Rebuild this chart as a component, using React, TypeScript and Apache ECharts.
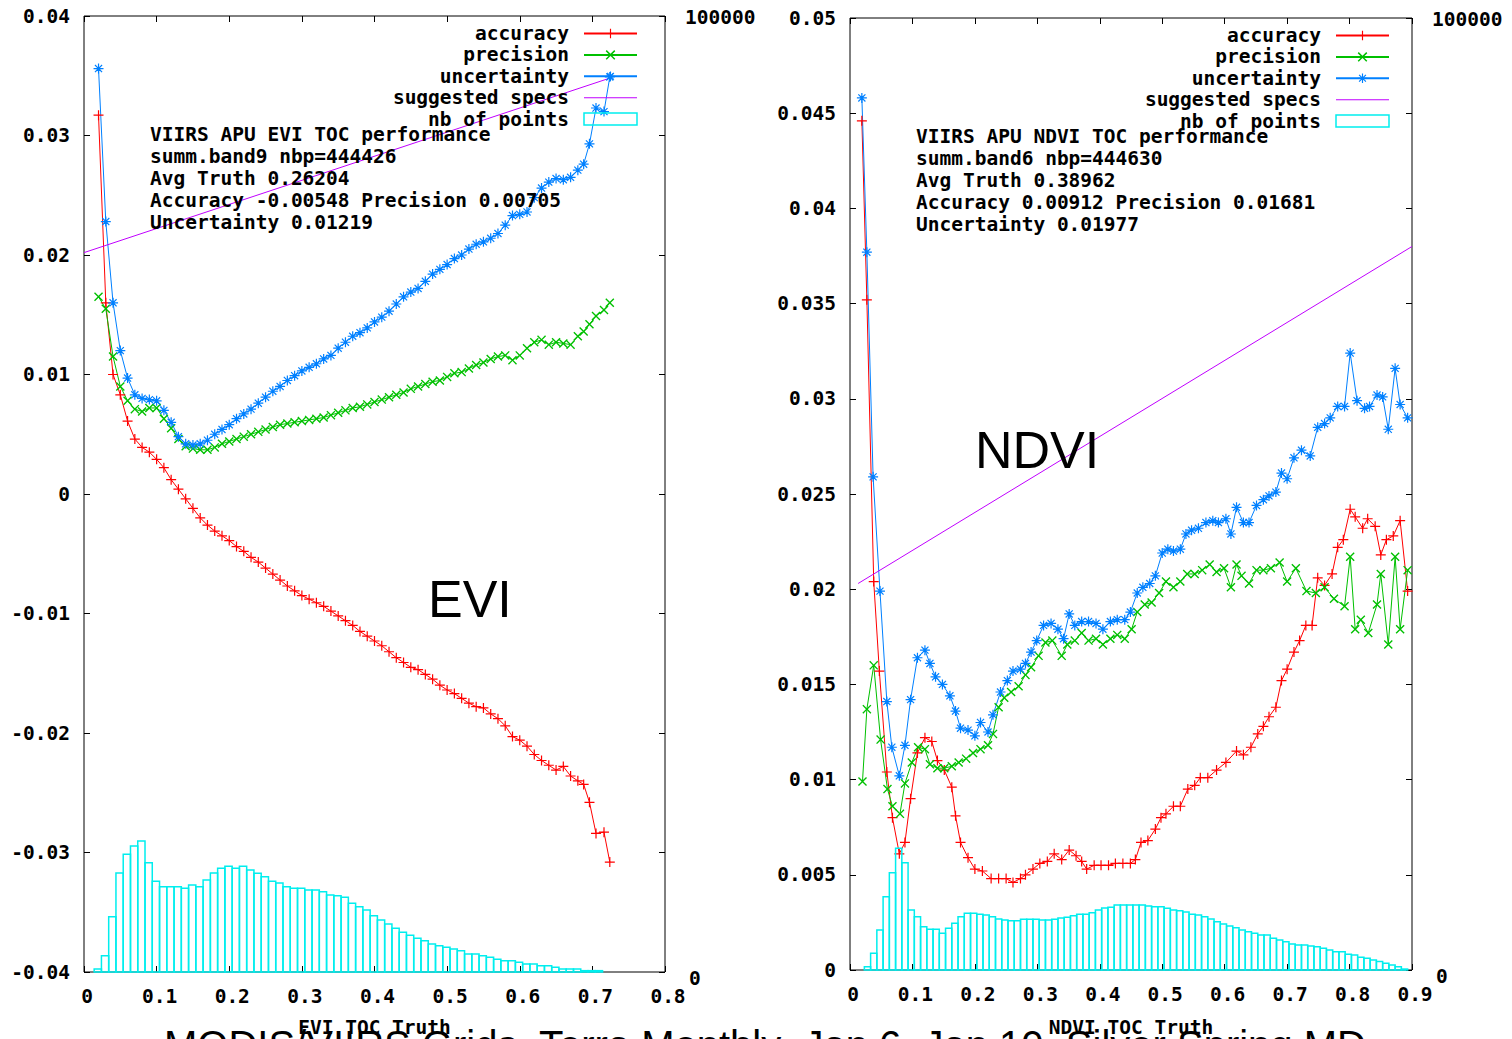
import React, { useEffect, useRef } from "react";
import * as echarts from "echarts";

// ---------------- EVI panel data ----------------
const EVI_X = [
  0.02, 0.03, 0.04, 0.05, 0.06, 0.07, 0.08, 0.09, 0.10, 0.11,
  0.12, 0.13, 0.14, 0.15, 0.16, 0.17, 0.18, 0.19, 0.20, 0.21,
  0.22, 0.23, 0.24, 0.25, 0.26, 0.27, 0.28, 0.29, 0.30, 0.31,
  0.32, 0.33, 0.34, 0.35, 0.36, 0.37, 0.38, 0.39, 0.40, 0.41,
  0.42, 0.43, 0.44, 0.45, 0.46, 0.47, 0.48, 0.49, 0.50, 0.51,
  0.52, 0.53, 0.54, 0.55, 0.56, 0.57, 0.58, 0.59, 0.60, 0.61,
  0.62, 0.63, 0.64, 0.65, 0.66, 0.67, 0.68, 0.688, 0.696, 0.705, 0.716, 0.724,
];
const EVI_ACCURACY = [
  0.0317, 0.0160, 0.0100, 0.0083, 0.0061, 0.0046, 0.0039, 0.0035, 0.0029, 0.0022,
  0.0012, 0.0004, -0.0004, -0.0012, -0.0020, -0.0026, -0.0031, -0.0035, -0.0039, -0.0044,
  -0.0048, -0.0053, -0.0057, -0.0062, -0.0067, -0.0072, -0.0077, -0.0081, -0.0085, -0.0088,
  -0.0091, -0.0094, -0.0098, -0.0102, -0.0106, -0.0110, -0.0115, -0.0119, -0.0123, -0.0127,
  -0.0132, -0.0137, -0.0141, -0.0145, -0.0147, -0.0151, -0.0155, -0.0160, -0.0164, -0.0167,
  -0.0171, -0.0175, -0.0178, -0.0179, -0.0184, -0.0188, -0.0194, -0.0203, -0.0206, -0.0211,
  -0.0218, -0.0223, -0.0227, -0.0231, -0.0228, -0.0236, -0.0240, -0.0243, -0.0258, -0.0284, -0.0283, -0.0308,
];
const EVI_PRECISION = [
  0.0165, 0.0155, 0.0115, 0.0090, 0.0078, 0.0071, 0.0069, 0.0072, 0.0072, 0.0063,
  0.0055, 0.0046, 0.0040, 0.0038, 0.0037, 0.0037, 0.0039, 0.0042, 0.0044, 0.0046,
  0.0048, 0.0050, 0.0052, 0.0054, 0.0056, 0.0058, 0.0059, 0.0060, 0.0061, 0.0062,
  0.0063, 0.0064, 0.0066, 0.0068, 0.0070, 0.0072, 0.0073, 0.0075, 0.0077, 0.0079,
  0.0081, 0.0083, 0.0085, 0.0088, 0.0090, 0.0092, 0.0094, 0.0095, 0.0098, 0.0101,
  0.0102, 0.0105, 0.0108, 0.0110, 0.0113, 0.0115, 0.0116, 0.0112, 0.0116, 0.0122,
  0.0127, 0.0129, 0.0125, 0.0127, 0.0126, 0.0125, 0.0132, 0.0136, 0.0142, 0.0149, 0.0154, 0.0160,
];
const EVI_UNCERTAINTY = [
  0.0356, 0.0228, 0.0160, 0.0120, 0.0097, 0.0083, 0.0080, 0.0079, 0.0078, 0.0070,
  0.0060, 0.0048, 0.0042, 0.0041, 0.0042, 0.0045, 0.0050, 0.0054, 0.0058, 0.0063,
  0.0067, 0.0071, 0.0076, 0.0081, 0.0086, 0.0090, 0.0095, 0.0099, 0.0103, 0.0106,
  0.0109, 0.0113, 0.0116, 0.0122, 0.0127, 0.0132, 0.0135, 0.0139, 0.0144, 0.0148,
  0.0153, 0.0159, 0.0165, 0.0169, 0.0172, 0.0178, 0.0184, 0.0188, 0.0192, 0.0197,
  0.0200, 0.0205, 0.0209, 0.0211, 0.0214, 0.0218, 0.0225, 0.0233, 0.0234, 0.0236,
  0.0248, 0.0256, 0.0261, 0.0264, 0.0263, 0.0265, 0.0271, 0.0276, 0.0293, 0.0323, 0.0320, 0.0349,
];
const EVI_SPECS = [[0, 0.0202], [0.724, 0.0348]];
const EVI_BINS = [
  0.019, 0.029, 0.039, 0.049, 0.059, 0.069, 0.079, 0.089, 0.099, 0.109,
  0.119, 0.129, 0.139, 0.149, 0.159, 0.169, 0.179, 0.189, 0.199, 0.209,
  0.219, 0.229, 0.239, 0.249, 0.259, 0.269, 0.279, 0.289, 0.299, 0.309,
  0.319, 0.329, 0.339, 0.349, 0.359, 0.369, 0.379, 0.389, 0.399, 0.409,
  0.419, 0.429, 0.439, 0.449, 0.459, 0.469, 0.479, 0.489, 0.499, 0.509,
  0.519, 0.529, 0.539, 0.549, 0.559, 0.569, 0.579, 0.589, 0.599, 0.609,
  0.619, 0.629, 0.639, 0.649, 0.659, 0.669, 0.679, 0.689, 0.699, 0.709,
];
const EVI_COUNTS = [
  314, 1700, 5790, 10350, 12310, 13180, 13700, 11440, 9480, 8930,
  8930, 8930, 8750, 9100, 8930, 9620, 10350, 10840, 11050, 10840,
  11050, 10670, 10320, 9970, 9480, 9310, 8930, 8750, 8750, 8580,
  8580, 8400, 8050, 7980, 7810, 7180, 6830, 6490, 5890, 5440,
  5020, 4570, 4150, 3840, 3520, 3280, 2930, 2750, 2580, 2410,
  2230, 1880, 1880, 1710, 1540, 1330, 1180, 1180, 1010, 840,
  840, 660, 660, 490, 310, 310, 310, 140, 140, 140,
];

// ---------------- NDVI panel data ----------------
const NDVI_ACCURACY = [
  [0.019, 0.0446], [0.027, 0.0352], [0.038, 0.0204], [0.047, 0.0157], [0.059, 0.0104],
  [0.068, 0.0080], [0.079, 0.0061], [0.088, 0.0067], [0.097, 0.0090], [0.108, 0.0114],
  [0.12, 0.0122], [0.131, 0.0120], [0.14, 0.0110], [0.151, 0.0105], [0.163, 0.0096],
  [0.169, 0.0081], [0.177, 0.0067], [0.189, 0.0059], [0.2, 0.0053], [0.212, 0.0052],
  [0.226, 0.0048], [0.238, 0.0048], [0.25, 0.0048], [0.261, 0.0046], [0.273, 0.0048],
  [0.281, 0.0050], [0.293, 0.0053], [0.304, 0.0056], [0.316, 0.0057], [0.327, 0.0061],
  [0.339, 0.0058], [0.351, 0.0063], [0.362, 0.0060], [0.371, 0.0057], [0.379, 0.0053],
  [0.391, 0.0055], [0.402, 0.0055], [0.414, 0.0055], [0.425, 0.0056], [0.437, 0.0056],
  [0.449, 0.0056], [0.457, 0.0058], [0.466, 0.0067], [0.477, 0.0068], [0.489, 0.0074],
  [0.498, 0.0080], [0.506, 0.0082], [0.518, 0.0086], [0.529, 0.0086], [0.541, 0.0095],
  [0.552, 0.0097], [0.561, 0.0101], [0.573, 0.0101], [0.587, 0.0105], [0.602, 0.0109],
  [0.619, 0.0115], [0.63, 0.0113], [0.642, 0.0117], [0.653, 0.0124], [0.662, 0.0128],
  [0.671, 0.0133], [0.682, 0.0138], [0.691, 0.0152], [0.7, 0.0158], [0.711, 0.0167],
  [0.72, 0.0173], [0.73, 0.0181], [0.74, 0.0181], [0.749, 0.0206], [0.76, 0.0202],
  [0.772, 0.0208], [0.781, 0.0222], [0.79, 0.0226], [0.801, 0.0242], [0.809, 0.0238],
  [0.821, 0.0232], [0.829, 0.0237], [0.841, 0.0233], [0.85, 0.0218], [0.859, 0.0226],
  [0.87, 0.0228], [0.881, 0.0236], [0.893, 0.0199],
];
const NDVI_PRECISION = [
  [0.02, 0.0099], [0.027, 0.0137], [0.038, 0.0160], [0.049, 0.0121], [0.06, 0.0095],
  [0.068, 0.0086], [0.08, 0.0082], [0.088, 0.0098], [0.099, 0.0109], [0.109, 0.0117],
  [0.12, 0.0116], [0.128, 0.0108], [0.14, 0.0106], [0.151, 0.0106], [0.163, 0.0107],
  [0.174, 0.0109], [0.186, 0.0111], [0.197, 0.0114], [0.209, 0.0116], [0.221, 0.0118],
  [0.229, 0.0124], [0.238, 0.0138], [0.247, 0.0143], [0.258, 0.0146], [0.27, 0.0149],
  [0.281, 0.0155], [0.29, 0.0159], [0.302, 0.0165], [0.313, 0.0172], [0.324, 0.0173],
  [0.339, 0.0165], [0.348, 0.0171], [0.36, 0.0173], [0.371, 0.0177], [0.382, 0.0173],
  [0.394, 0.0174], [0.405, 0.0171], [0.417, 0.0174], [0.428, 0.0176], [0.44, 0.0174],
  [0.451, 0.0179], [0.46, 0.0188], [0.472, 0.0192], [0.483, 0.0193], [0.495, 0.0198],
  [0.506, 0.0204], [0.518, 0.0201], [0.529, 0.0204], [0.54, 0.0208], [0.552, 0.0208],
  [0.564, 0.0210], [0.576, 0.0213], [0.587, 0.0209], [0.599, 0.0211], [0.61, 0.0201],
  [0.619, 0.0213], [0.627, 0.0207], [0.639, 0.0203], [0.651, 0.0210], [0.662, 0.0210],
  [0.674, 0.0211], [0.688, 0.0214], [0.7, 0.0204], [0.714, 0.0211], [0.731, 0.0199],
  [0.746, 0.0198], [0.76, 0.0201], [0.775, 0.0195], [0.792, 0.0191], [0.801, 0.0217],
  [0.809, 0.0179], [0.818, 0.0184], [0.83, 0.0177], [0.844, 0.0192], [0.85, 0.0208],
  [0.862, 0.0171], [0.873, 0.0217], [0.881, 0.0179], [0.893, 0.0210],
];
const NDVI_UNCERTAINTY = [
  [0.019, 0.0458], [0.027, 0.0377], [0.037, 0.0259], [0.048, 0.0199], [0.059, 0.0141],
  [0.067, 0.0117], [0.079, 0.0102], [0.088, 0.0118], [0.097, 0.0142], [0.108, 0.0164],
  [0.12, 0.0168], [0.128, 0.0161], [0.137, 0.0154], [0.148, 0.0150], [0.16, 0.0144],
  [0.169, 0.0136], [0.177, 0.0127], [0.189, 0.0126], [0.2, 0.0123], [0.209, 0.0130],
  [0.221, 0.0125], [0.229, 0.0134], [0.241, 0.0146], [0.252, 0.0152], [0.261, 0.0157],
  [0.273, 0.0158], [0.281, 0.0161], [0.29, 0.0167], [0.299, 0.0173], [0.31, 0.0181],
  [0.322, 0.0182], [0.333, 0.0179], [0.342, 0.0174], [0.351, 0.0187], [0.36, 0.0181],
  [0.371, 0.0183], [0.382, 0.0183], [0.394, 0.0182], [0.405, 0.0179], [0.417, 0.0183],
  [0.428, 0.0184], [0.44, 0.0184], [0.449, 0.0188], [0.46, 0.0198], [0.469, 0.0201],
  [0.48, 0.0203], [0.489, 0.0207], [0.5, 0.0219], [0.509, 0.0221], [0.518, 0.0220],
  [0.529, 0.0221], [0.538, 0.0229], [0.547, 0.0231], [0.558, 0.0232], [0.57, 0.0235],
  [0.581, 0.0236], [0.59, 0.0235], [0.602, 0.0237], [0.61, 0.0229], [0.619, 0.0243],
  [0.63, 0.0235], [0.639, 0.0235], [0.651, 0.0244], [0.662, 0.0247], [0.671, 0.0249],
  [0.682, 0.0251], [0.691, 0.0261], [0.7, 0.0258], [0.711, 0.0269], [0.723, 0.0273],
  [0.737, 0.0270], [0.749, 0.0285], [0.76, 0.0287], [0.769, 0.0290], [0.781, 0.0296],
  [0.792, 0.0296], [0.801, 0.0324], [0.812, 0.0299], [0.824, 0.0295], [0.832, 0.0296],
  [0.844, 0.0302], [0.853, 0.0301], [0.862, 0.0284], [0.873, 0.0316], [0.881, 0.0297],
  [0.893, 0.0290],
];
const NDVI_SPECS = [[0.013, 0.0203], [0.9, 0.0380]];
const NDVI_BINS = [
  0.028, 0.038, 0.048, 0.058, 0.068, 0.078, 0.088, 0.098, 0.108, 0.118,
  0.128, 0.138, 0.148, 0.158, 0.168, 0.178, 0.188, 0.198, 0.208, 0.218,
  0.228, 0.238, 0.248, 0.258, 0.268, 0.278, 0.288, 0.298, 0.308, 0.318,
  0.328, 0.338, 0.348, 0.358, 0.368, 0.378, 0.388, 0.398, 0.408, 0.418,
  0.428, 0.438, 0.448, 0.458, 0.468, 0.478, 0.488, 0.498, 0.508, 0.518,
  0.528, 0.538, 0.548, 0.558, 0.568, 0.578, 0.588, 0.598, 0.608, 0.618,
  0.628, 0.638, 0.648, 0.658, 0.668, 0.678, 0.688, 0.698, 0.708, 0.718,
  0.728, 0.738, 0.748, 0.758, 0.768, 0.778, 0.788, 0.798, 0.808, 0.818,
  0.828, 0.838, 0.848, 0.858, 0.868, 0.878, 0.888,
];
const NDVI_COUNTS = [
  350, 1750, 4200, 7700, 10220, 12780, 11270, 6300, 5600, 4550,
  4270, 4270, 3850, 4380, 4900, 5600, 5950, 5950, 5850, 5780,
  5600, 5360, 5250, 5180, 5180, 5320, 5320, 5320, 5250, 5250,
  5320, 5460, 5530, 5710, 5850, 5850, 6020, 6300, 6510, 6580,
  6830, 6830, 6830, 6830, 6830, 6720, 6650, 6650, 6480, 6300,
  6230, 6090, 5850, 5780, 5600, 5360, 5080, 4830, 4620, 4450,
  4200, 4030, 3850, 3680, 3680, 3330, 3150, 2980, 2730, 2630,
  2630, 2520, 2450, 2280, 2100, 1920, 1920, 1650, 1580, 1330,
  1230, 1050, 880, 700, 530, 350, 100,
];

// ---------------- texts ----------------
const EVI_NOTE = [
  "VIIRS APU EVI TOC performance",
  "summ.band9 nbp=444426",
  "Avg Truth 0.26204",
  "Accuracy -0.00548 Precision 0.00705",
  "Uncertainty 0.01219",
];
const NDVI_NOTE = [
  "VIIRS APU NDVI TOC performance",
  "summ.band6 nbp=444630",
  "Avg Truth 0.38962",
  "Accuracy 0.00912 Precision 0.01681",
  "Uncertainty 0.01977",
];
const BOTTOM_TITLE = "MODIS/VIIRS Grids  Terra Monthly  Jan 6  Jan 10  Silver Spring MD";

// ---------------- styles ----------------
const RED = "#ff0000";
const GREEN = "#00c000";
const BLUE = "#0080ff";
const PURPLE = "#c000ff";
const CYAN = "#00eeee";
const MONO = '"DejaVu Sans Mono", "Liberation Mono", monospace';
const SANS = '"Liberation Sans", Arial, sans-serif';
const MONO_SIZE = 19.5;
const BIN_HALF = 0.005;

const PLUS = "path://M4.4,0H5.6V4.4H10V5.6H5.6V10H4.4V5.6H0V4.4H4.4Z";
const CROSS =
  "path://M8.111,1.04L8.96,1.889L5.849,5L8.96,8.111L8.111,8.96L5,5.849L1.889,8.96L1.04,8.111L4.151,5L1.04,1.889L1.889,1.04L5,4.151Z";
const STAR =
  "path://M4.4,0H5.6V4.4H10V5.6H5.6V10H4.4V5.6H0V4.4H4.4Z M8.111,1.04L8.96,1.889L5.849,5L8.96,8.111L8.111,8.96L5,5.849L1.889,8.96L1.04,8.111L4.151,5L1.04,1.889L1.889,1.04L5,4.151Z";
const BAR_ICON = "path://M0,0H100V2H0Z";

const labelFont = { fontFamily: MONO, fontWeight: "bold" as const, fontSize: MONO_SIZE, color: "#000" };
const fmt = (v: number) => String(parseFloat(v.toFixed(4)));
const tick = { show: true, inside: true, length: 6, lineStyle: { color: "#000", width: 1 } };

function xAxesFor(gridIndex: number, max: number, name: string, nameGap: number) {
  return [
    {
      type: "value", gridIndex, min: 0, max, interval: 0.1, position: "bottom",
      name, nameLocation: "middle", nameGap, nameTextStyle: { ...labelFont },
      axisLine: { show: false, onZero: false }, axisTick: tick,
      axisLabel: { ...labelFont, margin: 14, formatter: fmt, padding: [0, 0, 0, 6] },
      splitLine: { show: false },
    },
    {
      type: "value", gridIndex, min: 0, max, interval: 0.1, position: "top",
      axisLine: { show: false, onZero: false }, axisTick: tick,
      axisLabel: { show: false }, splitLine: { show: false },
    },
  ];
}

function yAxesFor(gridIndex: number, min: number, max: number, interval: number) {
  return [
    {
      type: "value", gridIndex, min, max, interval, position: "left",
      axisLine: { show: false, onZero: false }, axisTick: tick,
      axisLabel: { ...labelFont, margin: 14, formatter: fmt }, splitLine: { show: false },
    },
    {
      type: "value", gridIndex, min, max, interval, position: "right",
      axisLine: { show: false, onZero: false }, axisTick: tick,
      axisLabel: { show: false }, splitLine: { show: false },
    },
    {
      type: "value", gridIndex, min: 0, max: 100000, interval: 100000, position: "right",
      axisLine: { show: false, onZero: false }, axisTick: { show: false },
      axisLabel: {
        ...labelFont, margin: 20,
        formatter: (v: number) => (v === 0 ? "{z|0}" : "{t|" + v + "}"),
        rich: {
          z: { ...labelFont, padding: [12, 0, 0, 4] },
          t: { ...labelFont, padding: [2, 0, 0, 0] },
        },
      },
      splitLine: { show: false },
    },
  ];
}

const histRender = (_params: any, api: any) => {
  const c = api.value(0);
  const n = api.value(1);
  const a = api.coord([c - BIN_HALF, n]);
  const b = api.coord([c + BIN_HALF, 0]);
  return {
    type: "rect",
    shape: { x: a[0], y: a[1], width: b[0] - a[0], height: b[1] - a[1] },
    style: { fill: "none", stroke: CYAN, lineWidth: 1.5 },
  };
};

function panelSeries(
  xi: number, yi: number, y2i: number,
  acc: number[][], prec: number[][], unc: number[][], specs: number[][],
  bins: number[], counts: number[]
) {
  const line = (name: string, data: number[][], color: string, symbol: string, size: number) => ({
    name, type: "line", xAxisIndex: xi, yAxisIndex: yi, data,
    symbol, symbolSize: size, showAllSymbol: true,
    lineStyle: { color, width: 1 }, itemStyle: { color, borderWidth: 0 },
    emphasis: { disabled: true }, z: 3,
  });
  return [
    line("accuracy", acc, RED, PLUS, 10),
    line("precision", prec, GREEN, CROSS, 9),
    line("uncertainty", unc, BLUE, STAR, 10),
    {
      name: "suggested specs", type: "line", xAxisIndex: xi, yAxisIndex: yi, data: specs,
      symbol: "none", lineStyle: { color: PURPLE, width: 1 }, itemStyle: { color: PURPLE }, z: 3,
    },
    {
      name: "nb of points", type: "custom", xAxisIndex: xi, yAxisIndex: y2i,
      data: bins.map((b, i) => [b, counts[i]]), encode: { x: 0, y: 1 },
      renderItem: histRender, itemStyle: { color: CYAN }, z: 4,
    },
  ];
}

function legendFor(right: number, top: number) {
  return {
    orient: "vertical", right, top, padding: 0, align: "right",
    itemWidth: 53, itemHeight: 12, itemGap: 1.4,
    textStyle: { ...labelFont, padding: [0, 10, 0, 0] },
    selectedMode: false,
    data: [
      "accuracy", "precision", "uncertainty",
      { name: "suggested specs", icon: BAR_ICON, itemStyle: { color: PURPLE, borderWidth: 0 } },
      { name: "nb of points", icon: "rect", itemStyle: { color: "rgba(0,0,0,0)", borderColor: CYAN, borderWidth: 1.5 } },
    ],
  };
}

export default function App() {
  const ref = useRef<HTMLDivElement>(null);
  useEffect(() => {
    if (!ref.current) return;
    const chart = echarts.init(ref.current, null, { renderer: "svg" });
    const eviPairs = (ys: number[]) => EVI_X.map((x, i) => [x, ys[i]]);
    const noteFont = `bold ${MONO_SIZE}px ${MONO}`;
    const option: any = {
      animation: false,
      backgroundColor: "#fff",
      grid: [
        { left: 84, top: 16, width: 581, height: 956, show: true, borderColor: "#000", borderWidth: 1, backgroundColor: "transparent", outerBoundsMode: "none" },
        { left: 850, top: 18, width: 562, height: 952, show: true, borderColor: "#000", borderWidth: 1, backgroundColor: "transparent", outerBoundsMode: "none" },
      ],
      xAxis: [...xAxesFor(0, 0.8, "EVI TOC Truth", 45), ...xAxesFor(1, 0.9, "NDVI TOC Truth", 47)],
      yAxis: [...yAxesFor(0, -0.04, 0.04, 0.01), ...yAxesFor(1, 0, 0.05, 0.005)],
      legend: [legendFor(874, 23.5), legendFor(122, 25.5)],
      series: [
        ...panelSeries(0, 0, 2, eviPairs(EVI_ACCURACY), eviPairs(EVI_PRECISION), eviPairs(EVI_UNCERTAINTY), EVI_SPECS, EVI_BINS, EVI_COUNTS),
        ...panelSeries(2, 3, 5, NDVI_ACCURACY, NDVI_PRECISION, NDVI_UNCERTAINTY, NDVI_SPECS, NDVI_BINS, NDVI_COUNTS),
      ],
      graphic: [
        { type: "text", x: 150, y: 123, z: 10, style: { text: EVI_NOTE.join("\n"), font: noteFont, lineHeight: 22, fill: "#000", verticalAlign: "top" } },
        { type: "text", x: 916, y: 125, z: 10, style: { text: NDVI_NOTE.join("\n"), font: noteFont, lineHeight: 22, fill: "#000", verticalAlign: "top" } },
        { type: "text", x: 428, y: 599, z: 10, style: { text: "EVI", font: `52px ${SANS}`, fill: "#000", verticalAlign: "middle" } },
        { type: "text", x: 975, y: 450, z: 10, style: { text: "NDVI", font: `52px ${SANS}`, fill: "#000", verticalAlign: "middle" } },
        { type: "text", x: 164, y: 1025, z: 10, style: { text: BOTTOM_TITLE, font: `40px ${SANS}`, fill: "#000", verticalAlign: "top" } },
      ],
    };
    chart.setOption(option);
    return () => chart.dispose();
  }, []);
  return <div ref={ref} style={{ position: "fixed", left: 0, top: 0, width: 1512, height: 1039 }} />;
}
